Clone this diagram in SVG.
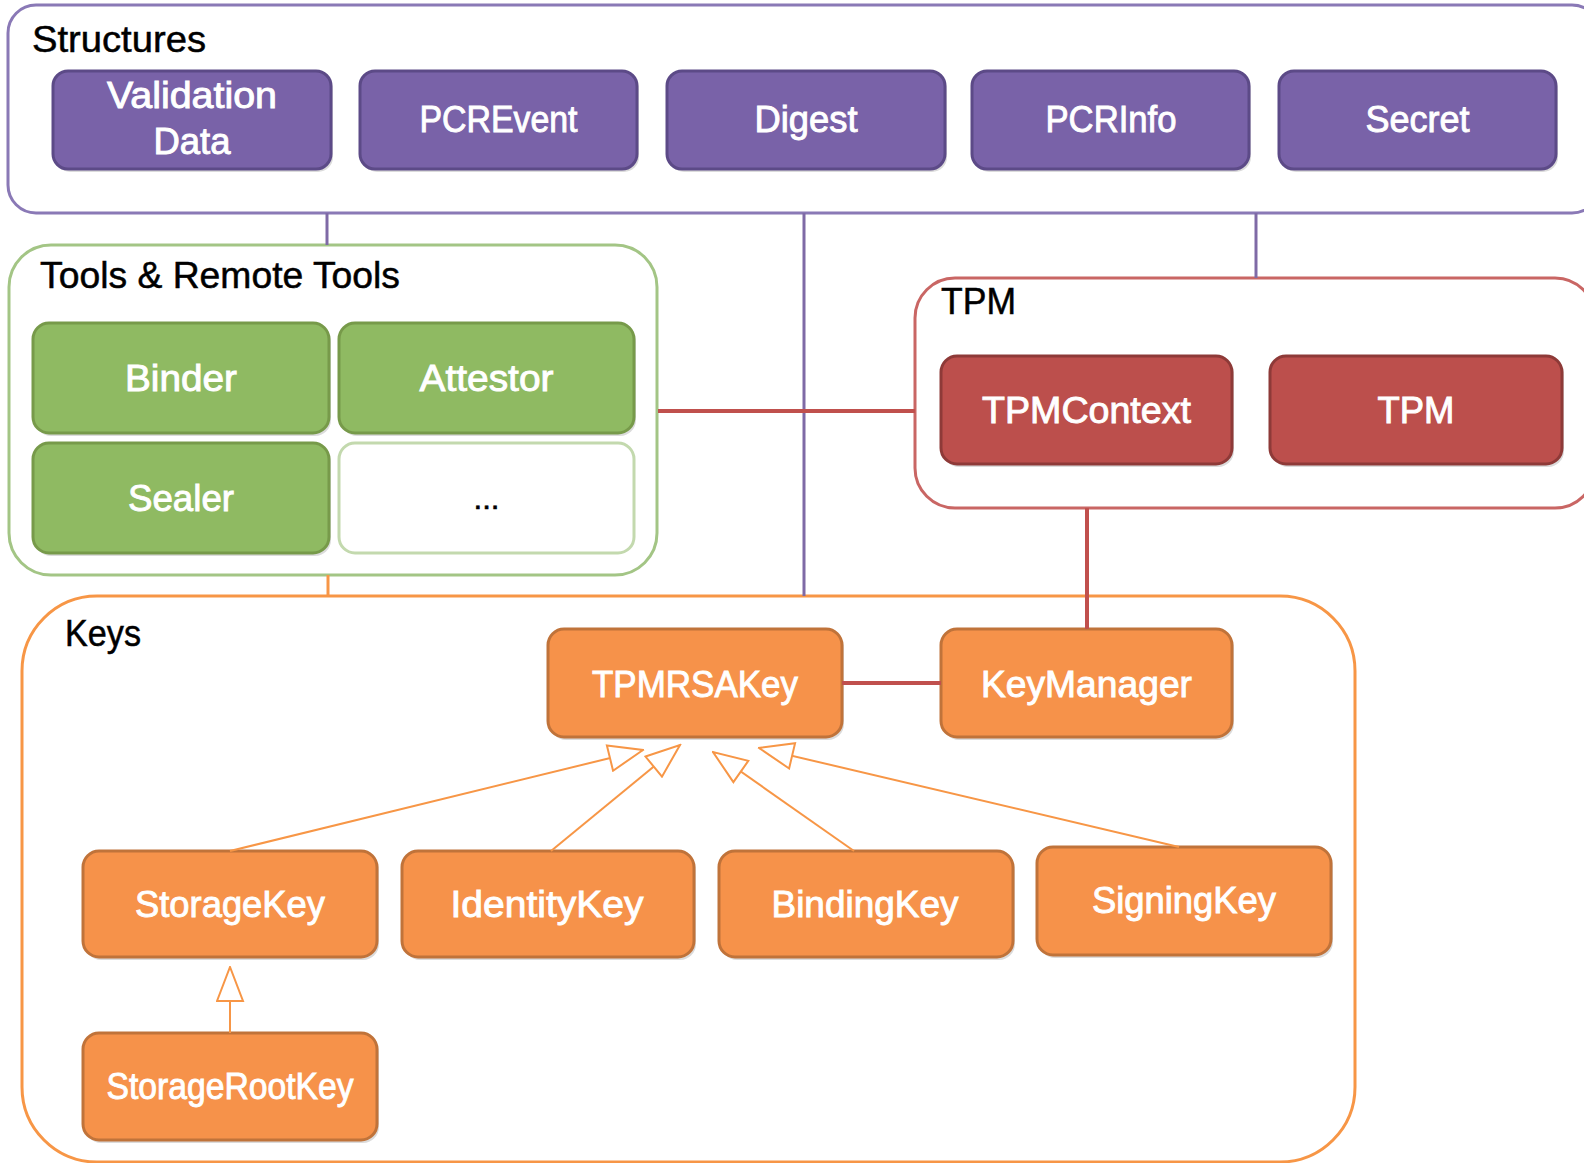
<svg xmlns="http://www.w3.org/2000/svg" width="1584" height="1163" viewBox="0 0 1584 1163">
  <style>
    text { font-family: "Liberation Sans", Arial, sans-serif; font-size: 37px; }
    .lbl { fill: #000000; stroke: #000000; stroke-width: 0.5; }
    .wt { fill: #ffffff; stroke: #ffffff; stroke-width: 0.9; text-anchor: middle; }
    .dk { fill: #000000; stroke: #000000; stroke-width: 0.6; text-anchor: middle; font-size: 30px; }
    .sh { fill: #000000; opacity: 0.14; }
    .grp-purple { fill: #ffffff; stroke: #8a79b6; stroke-width: 3; }
    .grp-green { fill: #ffffff; stroke: #a3c585; stroke-width: 3; }
    .grp-red { fill: #ffffff; stroke: #c96664; stroke-width: 3; }
    .grp-orange { fill: #ffffff; stroke: #f79646; stroke-width: 3; }
    .n-purple { fill: #7962a8; stroke: #5c4a87; stroke-width: 3; }
    .n-green { fill: #8fba62; stroke: #779a4a; stroke-width: 3; }
    .n-blank { fill: #ffffff; stroke: #c3d9ae; stroke-width: 3; }
    .n-red { fill: #bc4f4c; stroke: #8e3a38; stroke-width: 3; }
    .n-orange { fill: #f6924a; stroke: #c0733a; stroke-width: 3; }
    .c-purple { stroke: #7f6aa6; stroke-width: 3; fill: none; }
    .c-red { stroke: #c0504d; stroke-width: 4; fill: none; }
    .c-orange { stroke: #f79646; stroke-width: 3; fill: none; }
    .gen { stroke: #f79646; stroke-width: 2; fill: none; marker-end: url(#hollow); }
  </style>
  <defs>
    <marker id="hollow" markerUnits="userSpaceOnUse" viewBox="0 0 37 29" refX="35.5" refY="14.5" markerWidth="37" markerHeight="29" orient="auto">
      <path d="M1.5,1.5 L35.5,14.5 L1.5,27.5 Z" fill="#ffffff" stroke="#f79646" stroke-width="2"/>
    </marker>
  </defs>

  <rect width="1584" height="1163" fill="#ffffff"/>

  <!-- Structures -->
  <g id="structures">
    <rect class="grp-purple" x="8" y="5" width="1592" height="208" rx="28"/>
    <text class="lbl" x="32" y="52" textLength="174" lengthAdjust="spacingAndGlyphs">Structures</text>
    <g id="validation-data">
      <rect class="sh" x="55" y="74" width="278" height="98" rx="15"/>
      <rect class="n-purple" x="53" y="71" width="278" height="98" rx="15"/>
      <text class="wt" x="192" y="108" textLength="170" lengthAdjust="spacingAndGlyphs">Validation</text>
      <text class="wt" x="192" y="154" textLength="77" lengthAdjust="spacingAndGlyphs">Data</text>
    </g>
    <g id="pcrevent">
      <rect class="sh" x="362" y="74" width="277" height="98" rx="15"/>
      <rect class="n-purple" x="360" y="71" width="277" height="98" rx="15"/>
      <text class="wt" x="498.5" y="132" textLength="158" lengthAdjust="spacingAndGlyphs">PCREvent</text>
    </g>
    <g id="digest">
      <rect class="sh" x="669" y="74" width="278" height="98" rx="15"/>
      <rect class="n-purple" x="667" y="71" width="278" height="98" rx="15"/>
      <text class="wt" x="806" y="132" textLength="103" lengthAdjust="spacingAndGlyphs">Digest</text>
    </g>
    <g id="pcrinfo">
      <rect class="sh" x="974" y="74" width="277" height="98" rx="15"/>
      <rect class="n-purple" x="972" y="71" width="277" height="98" rx="15"/>
      <text class="wt" x="1111" y="132" textLength="131" lengthAdjust="spacingAndGlyphs">PCRInfo</text>
    </g>
    <g id="secret">
      <rect class="sh" x="1281" y="74" width="277" height="98" rx="15"/>
      <rect class="n-purple" x="1279" y="71" width="277" height="98" rx="15"/>
      <text class="wt" x="1417.5" y="132" textLength="104" lengthAdjust="spacingAndGlyphs">Secret</text>
    </g>
  </g>

  <!-- Tools & Remote Tools -->
  <g id="tools">
    <rect class="grp-green" x="9" y="245" width="648" height="330" rx="42"/>
    <text class="lbl" x="40" y="288" textLength="360" lengthAdjust="spacingAndGlyphs">Tools &amp; Remote Tools</text>
    <g id="binder">
      <rect class="sh" x="35" y="326" width="296" height="110" rx="16"/>
      <rect class="n-green" x="33" y="323" width="296" height="110" rx="16"/>
      <text class="wt" x="181" y="391" textLength="112" lengthAdjust="spacingAndGlyphs">Binder</text>
    </g>
    <g id="attestor">
      <rect class="sh" x="341" y="326" width="295" height="110" rx="16"/>
      <rect class="n-green" x="339" y="323" width="295" height="110" rx="16"/>
      <text class="wt" x="486.5" y="391" textLength="134" lengthAdjust="spacingAndGlyphs">Attestor</text>
    </g>
    <g id="sealer">
      <rect class="sh" x="35" y="446" width="296" height="110" rx="16"/>
      <rect class="n-green" x="33" y="443" width="296" height="110" rx="16"/>
      <text class="wt" x="181" y="511" textLength="106" lengthAdjust="spacingAndGlyphs">Sealer</text>
    </g>
    <g id="more-tools">
      <rect class="n-blank" x="339" y="443" width="295" height="110" rx="16"/>
      <text class="dk" x="486.5" y="509" textLength="26" lengthAdjust="spacingAndGlyphs">...</text>
    </g>
  </g>

  <!-- TPM -->
  <g id="tpm-group">
    <rect class="grp-red" x="915" y="278" width="680" height="230" rx="40"/>
    <text class="lbl" x="941" y="314" textLength="75" lengthAdjust="spacingAndGlyphs">TPM</text>
    <g id="tpmcontext">
      <rect class="sh" x="943" y="359" width="291" height="108" rx="16"/>
      <rect class="n-red" x="941" y="356" width="291" height="108" rx="16"/>
      <text class="wt" x="1086.5" y="423" textLength="209" lengthAdjust="spacingAndGlyphs">TPMContext</text>
    </g>
    <g id="tpm">
      <rect class="sh" x="1272" y="359" width="292" height="108" rx="16"/>
      <rect class="n-red" x="1270" y="356" width="292" height="108" rx="16"/>
      <text class="wt" x="1416" y="423" textLength="77" lengthAdjust="spacingAndGlyphs">TPM</text>
    </g>
  </g>

  <!-- Keys -->
  <g id="keys">
    <rect class="grp-orange" x="22" y="596" width="1333" height="566" rx="75"/>
    <text class="lbl" x="65" y="646" textLength="76" lengthAdjust="spacingAndGlyphs">Keys</text>
    <g id="tpmrsakey">
      <rect class="sh" x="550" y="632" width="294" height="108" rx="16"/>
      <rect class="n-orange" x="548" y="629" width="294" height="108" rx="16"/>
      <text class="wt" x="695" y="697" textLength="206" lengthAdjust="spacingAndGlyphs">TPMRSAKey</text>
    </g>
    <g id="keymanager">
      <rect class="sh" x="943" y="632" width="291" height="108" rx="16"/>
      <rect class="n-orange" x="941" y="629" width="291" height="108" rx="16"/>
      <text class="wt" x="1086.5" y="697" textLength="211" lengthAdjust="spacingAndGlyphs">KeyManager</text>
    </g>
    <g id="storagekey">
      <rect class="sh" x="85" y="854" width="294" height="106" rx="16"/>
      <rect class="n-orange" x="83" y="851" width="294" height="106" rx="16"/>
      <text class="wt" x="230" y="917" textLength="190" lengthAdjust="spacingAndGlyphs">StorageKey</text>
    </g>
    <g id="identitykey">
      <rect class="sh" x="404" y="854" width="292" height="106" rx="16"/>
      <rect class="n-orange" x="402" y="851" width="292" height="106" rx="16"/>
      <text class="wt" x="547" y="917" textLength="193" lengthAdjust="spacingAndGlyphs">IdentityKey</text>
    </g>
    <g id="bindingkey">
      <rect class="sh" x="721" y="854" width="294" height="106" rx="16"/>
      <rect class="n-orange" x="719" y="851" width="294" height="106" rx="16"/>
      <text class="wt" x="865" y="917" textLength="187" lengthAdjust="spacingAndGlyphs">BindingKey</text>
    </g>
    <g id="signingkey">
      <rect class="sh" x="1039" y="850" width="294" height="108" rx="16"/>
      <rect class="n-orange" x="1037" y="847" width="294" height="108" rx="16"/>
      <text class="wt" x="1184" y="913" textLength="184" lengthAdjust="spacingAndGlyphs">SigningKey</text>
    </g>
    <g id="storagerootkey">
      <rect class="sh" x="85" y="1036" width="294" height="107" rx="16"/>
      <rect class="n-orange" x="83" y="1033" width="294" height="107" rx="16"/>
      <text class="wt" x="230" y="1099" textLength="247" lengthAdjust="spacingAndGlyphs">StorageRootKey</text>
    </g>
  </g>

  <!-- connectors: drawn last so lines inside the Keys frame stay visible -->
  <g id="connectors">
    <line class="c-purple" x1="327" y1="213" x2="327" y2="245"/>
    <line class="c-purple" x1="804" y1="213" x2="804" y2="596"/>
    <line class="c-purple" x1="1256" y1="213" x2="1256" y2="278"/>
    <line class="c-orange" x1="328" y1="575" x2="328" y2="596"/>
    <line class="c-red" x1="658" y1="411" x2="915" y2="411"/>
    <line class="c-red" x1="1087" y1="508" x2="1087" y2="629"/>
    <line class="c-red" x1="842" y1="683" x2="941" y2="683"/>
    <line class="gen" x1="230" y1="851" x2="643" y2="750"/>
    <line class="gen" x1="551" y1="851" x2="680" y2="745"/>
    <line class="gen" x1="854" y1="851" x2="713" y2="752"/>
    <line class="gen" x1="1179" y1="847" x2="759" y2="748"/>
    <line class="gen" x1="230" y1="1033" x2="230" y2="967"/>
  </g>
</svg>
